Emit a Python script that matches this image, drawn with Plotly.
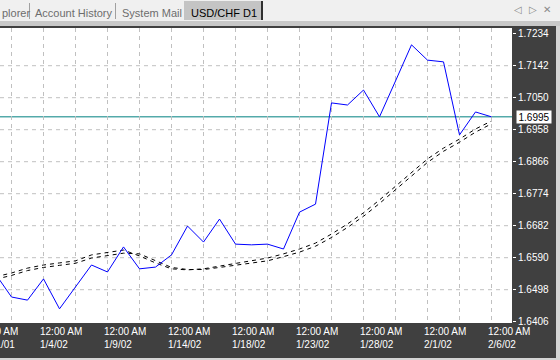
import plotly.graph_objects as go

# ---------------- data ----------------
dates = ["12/31/01", "1/1/02", "1/2/02", "1/3/02", "1/4/02", "1/6/02", "1/7/02", "1/8/02",
         "1/9/02", "1/10/02", "1/11/02", "1/13/02", "1/14/02", "1/15/02", "1/16/02", "1/17/02",
         "1/18/02", "1/20/02", "1/21/02", "1/22/02", "1/23/02", "1/24/02", "1/25/02", "1/27/02",
         "1/28/02", "1/29/02", "1/30/02", "1/31/02", "2/1/02", "2/3/02", "2/4/02", "2/5/02", "2/6/02"]
close = [None, 1.6543, 1.6477, 1.6468, 1.6529, 1.6443, 1.6506, 1.6569, 1.6549, 1.6621, 1.6558,
         1.6563, 1.6598, 1.6681, 1.6635, 1.6701, 1.6629, 1.6627, 1.6629, 1.6615, 1.6721, 1.6744,
         1.7035, 1.7029, 1.7072, 1.6995, 1.7098, 1.7202, 1.7158, 1.7153, 1.6943, 1.7009, 1.6995]
ma_fast = [None, 1.6535, 1.6546, 1.6560, 1.6569, 1.6575, 1.6581, 1.6598, 1.6604, 1.6612, 1.6595,
           1.6575, 1.6558, 1.6555, 1.6558, 1.6566, 1.6575, 1.6583, 1.6589, 1.6601, 1.6615, 1.6632,
           1.6658, 1.6687, 1.6719, 1.6756, 1.6796, 1.6834, 1.6874, 1.6905, 1.6931, 1.6960, 1.6983]
ma_slow = [None, 1.6528, 1.6539, 1.6553, 1.6562, 1.6568, 1.6574, 1.6589, 1.6595, 1.6603, 1.6601,
           1.6582, 1.6562, 1.6556, 1.6556, 1.6562, 1.6569, 1.6576, 1.6581, 1.6593, 1.6606, 1.6623,
           1.6648, 1.6677, 1.6709, 1.6746, 1.6786, 1.6824, 1.6864, 1.6896, 1.6922, 1.6951, 1.6975]
current_price = 1.6995
y_ticks = [1.7234, 1.7142, 1.7050, 1.6958, 1.6866, 1.6774, 1.6682, 1.6590, 1.6498, 1.6406]
y_tick_text = ["1.7234", "1.7142", "1.7050", "1.6958", "1.6866", "1.6774", "1.6682", "1.6590",
               "1.6498", "1.6406"]
x_label_dates = ["12/31/01", "1/4/02", "1/9/02", "1/14/02", "1/18/02", "1/23/02", "1/28/02",
                 "2/1/02", "2/6/02"]
x_time_label = "12:00 AM"
tabs = ["plorer", "Account History", "System Mail"]
active_tab = "USD/CHF D1"

# ---------------- layout geometry (pixels) ----------------
W, H = 560, 360
PL, PR, PT, PB = 0, 512, 28, 323   # plot area edges
X_RANGE = [1.28125, 33.28125]


def px(x):
    return (x - PL) / (PR - PL)


def py(y):
    return (PB - y) / (PB - PT)


def cat_to_paper(cat):
    i = dates.index(cat)
    return (i - X_RANGE[0]) / (X_RANGE[1] - X_RANGE[0])


FONT = "Liberation Sans, Arial, sans-serif"
GRID = "#c0c0c0"
DARK = "#404040"

fig = go.Figure()
fig.add_trace(go.Scatter(x=dates, y=ma_slow, mode="lines",
                         line=dict(color="black", width=1, dash="4px,4px"), hoverinfo="skip"))
fig.add_trace(go.Scatter(x=dates, y=ma_fast, mode="lines",
                         line=dict(color="black", width=1, dash="4px,4px"), hoverinfo="skip"))
fig.add_trace(go.Scatter(x=dates, y=close, mode="lines",
                         line=dict(color="#0000ff", width=1), hoverinfo="skip"))

shapes = []
# horizontal grid (interior ticks)
for v in y_ticks[1:-1]:
    shapes.append(dict(type="line", xref="paper", yref="y", x0=0, x1=1, y0=v, y1=v,
                       line=dict(color=GRID, width=1, dash="4px,4px"), layer="below"))
# current price line
shapes.append(dict(type="line", xref="paper", yref="y", x0=0, x1=1, y0=current_price,
                   y1=current_price, line=dict(color="#008080", width=1), layer="below"))
# window chrome
shapes += [
    dict(type="rect", xref="paper", yref="paper", x0=px(0), x1=px(W), y0=py(21), y1=py(-1),
         fillcolor="#f0f0f0", line=dict(width=0), layer="above"),
    dict(type="rect", xref="paper", yref="paper", x0=px(0), x1=px(W), y0=py(26), y1=py(21),
         fillcolor="#c8c8c8", line=dict(width=0), layer="above"),
    dict(type="rect", xref="paper", yref="paper", x0=px(184), x1=px(261), y0=py(20), y1=py(1),
         fillcolor="#c4c4c4", line=dict(width=0), layer="above"),
    dict(type="rect", xref="paper", yref="paper", x0=px(261), x1=px(263), y0=py(20), y1=py(1),
         fillcolor="#303030", line=dict(width=0), layer="above"),
    dict(type="line", xref="paper", yref="paper", x0=px(29.5), x1=px(29.5), y0=py(19), y1=py(3),
         line=dict(color="#a0a0a0", width=1), layer="above"),
    dict(type="line", xref="paper", yref="paper", x0=px(115.5), x1=px(115.5), y0=py(19), y1=py(3),
         line=dict(color="#a0a0a0", width=1), layer="above"),
    dict(type="rect", xref="paper", yref="paper", x0=px(556), x1=px(W + 1), y0=py(H + 1), y1=py(26),
         fillcolor="#d4d4d4", line=dict(width=0), layer="above"),
    dict(type="rect", xref="paper", yref="paper", x0=px(0), x1=px(W + 1), y0=py(H + 1), y1=py(358),
         fillcolor="#d4d4d4", line=dict(width=0), layer="above"),
]

annotations = []
for d in x_label_dates:
    annotations.append(dict(x=cat_to_paper(d), xref="paper", y=0, yref="paper", yanchor="top",
                            xanchor="left", xshift=-6, yshift=-1, align="left", showarrow=False,
                            text=x_time_label + "<br>" + d,
                            font=dict(family=FONT, size=10, color="white")))
# current price label
annotations.append(dict(x=1, xref="paper", y=current_price, yref="y", xanchor="left",
                        yanchor="middle", xshift=4, showarrow=False, text=f"{current_price:.4f}",
                        bgcolor="white", borderpad=0, width=34, height=12,
                        font=dict(family=FONT, size=10, color="black")))
# tabs
tab_x = [0, 33, 120]
for t, x0 in zip(tabs, tab_x):
    annotations.append(dict(x=px(x0), y=py(12.5), xref="paper", yref="paper", xanchor="left",
                            yanchor="middle", showarrow=False, text=t,
                            font=dict(family=FONT, size=11, color="#6d6d6d")))
annotations.append(dict(x=px(189), y=py(12.5), xref="paper", yref="paper", xanchor="left",
                        yanchor="middle", showarrow=False, text=active_tab,
                        font=dict(family=FONT, size=11, color="black")))
for sym, x0 in zip(["◁", "▷", "✕"], [518, 533, 547]):
    annotations.append(dict(x=px(x0), y=py(9.5), xref="paper", yref="paper", xanchor="center",
                            yanchor="middle", showarrow=False, text=sym,
                            font=dict(family="DejaVu Sans", size=10, color="#8a8a8a")))

fig.update_layout(
    width=W, height=H,
    margin=dict(l=PL, r=W - PR, t=PT, b=H - PB, pad=0),
    paper_bgcolor=DARK, plot_bgcolor="white",
    showlegend=False,
    shapes=shapes, annotations=annotations,
    xaxis=dict(type="category", categoryorder="array", categoryarray=dates,
               range=X_RANGE, tickvals=dates[::2], showgrid=True,
               gridcolor=GRID, griddash="4px,4px", gridwidth=1, showticklabels=False,
               ticks="", zeroline=False, showline=False, fixedrange=True),
    yaxis=dict(side="right", range=[1.640226, 1.725039], tickvals=y_ticks,
               ticktext=y_tick_text, showgrid=False, ticks="outside", ticklen=3,
               tickcolor="white", tickwidth=1, zeroline=False, showline=False,
               tickfont=dict(family=FONT, size=10, color="white"), fixedrange=True),
)

fig.write_html("out.html", config={"displayModeBar": False})
